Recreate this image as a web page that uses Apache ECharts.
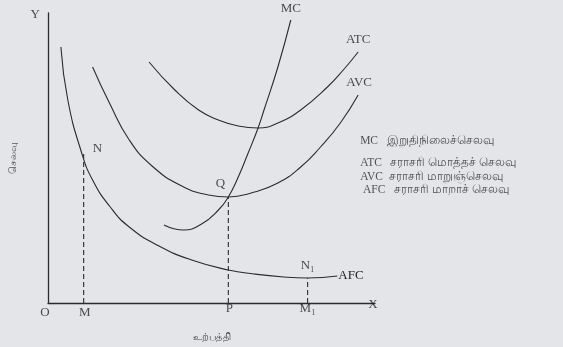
<!DOCTYPE html>
<html>
<head>
<meta charset="utf-8">
<script src="https://cdn.jsdelivr.net/npm/echarts@6/dist/echarts.min.js"></script>
<style>
  html, body { margin: 0; padding: 0; background: #e3e5e9; }
  #chart { width: 563px; height: 347px; }
</style>
</head>
<body>
<div id="chart"></div>
<script>
// curve points (x = output, y = cost)
const afcPoints = [[13, 256], [20, 203], [34, 150], [45, 123], [62, 97], [82, 76], [112, 57], [145, 43], [182, 33], [208, 29], [238, 26], [262, 25], [292, 27]]
const avcPoints = [[45, 236], [62, 200], [82, 163], [105, 137], [135, 117], [162, 108], [182, 106], [205, 110], [232, 120], [255, 136], [275, 156], [295, 180], [313, 208]]
const atcPoints = [[102, 241], [128, 213], [152, 193], [172, 183], [192, 177], [212, 175], [232, 180], [255, 193], [282, 216], [298, 233], [313, 251]]
const mcPoints = [[117, 78], [137, 73], [155, 79], [172, 93], [182, 106], [192, 126], [202, 150], [212, 175], [218, 193], [232, 236], [245, 283]]

// dashed drop lines  M-N, P-Q, M1-N1
const dropLines = [
  [[36, 0], [36, 150]],
  [[182, 0], [182, 106]],
  [[262, 0], [262, 25]]
]

// point letters and curve names
const pointLabels = ['Y', 'X', 'O', 'M', 'P', 'M₁', 'N', 'Q', 'N₁', 'MC', 'ATC', 'AVC']
const pointLabelPos = [[-13, 288], [328, -2], [-3, -10], [37, -10], [183, -6], [262, -6], [50, 154], [174, 119], [262, 37], [245, 294], [313, 263], [314, 220]]

// legend lines (right side)
const legendLines = ['MC   இறுதிநிலைச்செலவு', 'ATC   சராசரி மொத்தச் செலவு', 'AVC  சராசரி மாறுஞ்செலவு', ' AFC   சராசரி மாறாச் செலவு']
const legendPos = [[315, 162], [315, 140], [315, 126], [315, 113]]

const axisTitleX = 'உற்பத்தி'
const axisTitleY = 'செலவு'

const chart = echarts.init(document.getElementById('chart'))

const lineColor = '#2b2b2b'
const serif = '"Liberation Serif", "DejaVu Serif", serif'

function curve (data, name) {
  return {
    type: 'line',
    name: name,
    data: data,
    smooth: 0.5,
    showSymbol: false,
    clip: false,
    silent: true,
    lineStyle: { color: lineColor, width: 1.1 }
  }
}

const series = [
  curve(afcPoints, 'AFC'),
  curve(avcPoints, 'AVC'),
  curve(atcPoints, 'ATC'),
  curve(mcPoints, 'MC')
]
// AFC name sits at the end of its curve
series[0].endLabel = {
  show: true,
  formatter: 'AFC',
  color: '#222',
  fontFamily: serif,
  fontSize: 13,
  distance: 1
}

dropLines.forEach((seg) => {
  series.push({
    type: 'line',
    data: seg,
    showSymbol: false,
    silent: true,
    lineStyle: { color: lineColor, width: 1.1, type: [5, 3] }
  })
})

series.push({
  type: 'scatter',
  symbolSize: 0,
  clip: false,
  silent: true,
  data: pointLabelPos.map((p, i) => ({ value: p, name: pointLabels[i] })),
  label: {
    show: true,
    position: 'inside',
    formatter: '{b}',
    color: '#222',
    fontFamily: serif,
    fontSize: 13
  }
})

series.push({
  type: 'scatter',
  symbolSize: 0,
  clip: false,
  silent: true,
  data: legendPos.map((p, i) => ({ value: p, name: legendLines[i] })),
  label: {
    show: true,
    position: 'right',
    distance: 0,
    formatter: '{b}',
    color: '#2a2a2a',
    fontFamily: '"Liberation Serif", "Noto Sans", sans-serif',
    fontSize: 11.5
  }
})

chart.setOption({
  backgroundColor: '#e3e5e9',
  animation: false,
  grid: { left: 45, top: 13, width: 330, height: 290 },
  xAxis: {
    type: 'value',
    min: 0,
    max: 330,
    name: axisTitleX,
    nameLocation: 'middle',
    nameGap: 29,
    nameTextStyle: { color: '#444', fontSize: 10, fontFamily: '"Noto Sans", sans-serif' },
    axisLine: { show: true, lineStyle: { color: lineColor, width: 1.3 } },
    axisTick: { show: false },
    axisLabel: { show: false },
    splitLine: { show: false }
  },
  yAxis: {
    type: 'value',
    min: 0,
    max: 290,
    name: axisTitleY,
    nameLocation: 'middle',
    nameRotate: 90,
    nameGap: 30,
    nameTextStyle: { color: '#555', fontSize: 10, fontFamily: '"Noto Sans", sans-serif' },
    axisLine: { show: true, lineStyle: { color: lineColor, width: 1.3 } },
    axisTick: { show: false },
    axisLabel: { show: false },
    splitLine: { show: false }
  },
  series: series
})
</script>
</body>
</html>
